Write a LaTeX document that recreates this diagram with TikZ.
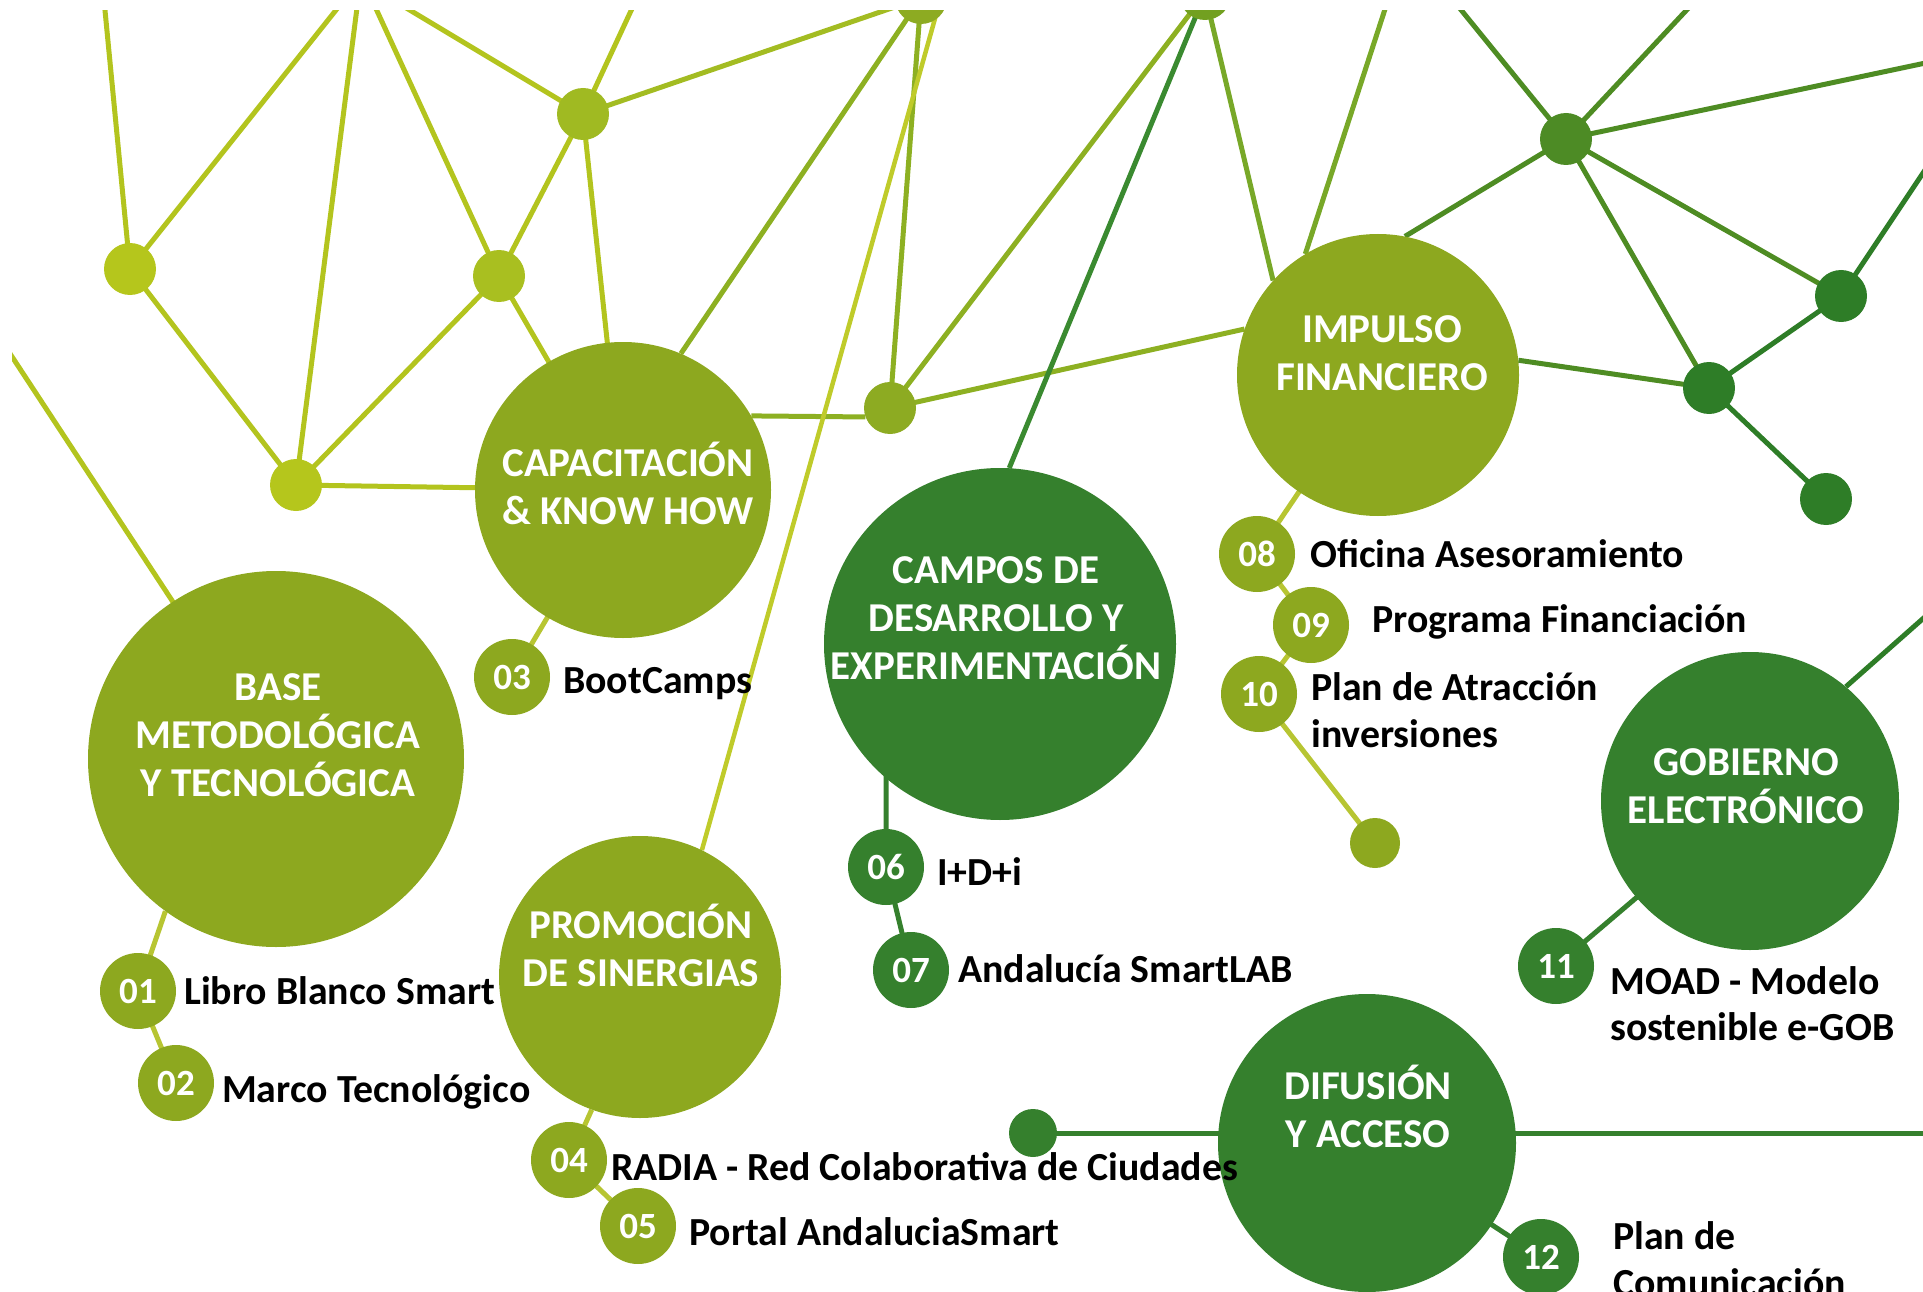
\documentclass[tikz,border=0pt]{standalone}
\usepackage{fontspec}
\setmainfont{Carlito}
\usetikzlibrary{backgrounds}
\definecolor{olive}{HTML}{8DA81F}
\definecolor{dkgreen}{HTML}{35802D}
\definecolor{cA}{HTML}{B5C61C}
\definecolor{cC}{HTML}{A9BF20}
\definecolor{cD}{HTML}{A0BA22}
\definecolor{cE}{HTML}{8DAB22}
\definecolor{cG}{HTML}{72A020}
\definecolor{cH}{HTML}{4D8B25}
\definecolor{cI}{HTML}{2E7D27}
\definecolor{lnLeft}{HTML}{B3C41E}
\definecolor{lnD}{HTML}{A3BC22}
\definecolor{lnOl}{HTML}{8DB022}
\definecolor{lnPale}{HTML}{BFCB2A}
\definecolor{lnG}{HTML}{78A828}
\definecolor{lnCamp}{HTML}{3A8A30}
\definecolor{lnH}{HTML}{4E8C23}
\definecolor{lnSub}{HTML}{B7C532}
\tikzset{
  bigc/.style={circle,inner sep=0pt,draw=none},
  num/.style={circle,inner sep=0pt,minimum size=76pt,text=white,
    font=\bfseries\fontsize{37}{37}\selectfont},
  dotn/.style={circle,inner sep=0pt,minimum size=52pt},
  wt/.style={text=white,align=center,inner sep=0pt,anchor=base,
    font=\bfseries\fontsize{41}{48}\selectfont},
  lbl/.style={anchor=base west,align=left,inner sep=0pt,
    font=\bfseries\fontsize{39.8}{47}\selectfont},
  ln/.style={line width=5pt},
}
\begin{document}
\begin{tikzpicture}[x=1pt,y=-1pt]
\useasboundingbox (0,0) rectangle (1923,1292);
\begin{scope}
\clip (12,11) rectangle (1923,1292);
% big circles
\node[bigc,fill=olive,minimum size=376pt] (base) at (276,759) {};
\node[bigc,fill=olive,minimum size=296pt] (cap) at (623,490) {};
\node[bigc,fill=olive,minimum size=282pt] (prom) at (640,977) {};
\node[bigc,fill=dkgreen,minimum size=352pt] (campos) at (1000,644) {};
\node[bigc,fill=olive,minimum size=282pt] (impulso) at (1378,375) {};
\node[bigc,fill=dkgreen,minimum size=298pt] (gob) at (1750,801) {};
\node[bigc,fill=dkgreen,minimum size=298pt] (dif) at (1367,1143) {};
% numbered circles
\node[num,fill=olive] (n01) at (138,991) {01};
\node[num,fill=olive] (n02) at (176,1083) {02};
\node[num,fill=olive] (n03) at (512,677) {03};
\node[num,fill=olive] (n04) at (569,1160) {04};
\node[num,fill=olive] (n05) at (638,1226) {05};
\node[num,fill=dkgreen] (n06) at (886,867) {06};
\node[num,fill=dkgreen] (n07) at (911,970) {07};
\node[num,fill=olive] (n08) at (1257,554) {08};
\node[num,fill=olive] (n09) at (1311,625) {09};
\node[num,fill=olive] (n10) at (1259,694) {10};
\node[num,fill=dkgreen] (n11) at (1556,966) {11};
\node[num,fill=dkgreen] (n12) at (1541,1257) {12};
% network dots
\node[dotn,fill=cA] (A) at (130,269) {};
\node[dotn,fill=cA] (B) at (296,485) {};
\node[dotn,fill=cC] (C) at (499,276) {};
\node[dotn,fill=cD] (D) at (583,114) {};
\node[dotn,fill=cE] (E) at (890,408) {};
\node[dotn,fill=cE] (F) at (921,-2) {};
\node[dotn,fill=cG] (G) at (1205,-6) {};
\node[dotn,fill=cH] (H) at (1566,139) {};
\node[dotn,fill=cI] (I) at (1841,296) {};
\node[dotn,fill=cI] (J) at (1709,388) {};
\node[dotn,fill=cI] (K) at (1826,499) {};
\node[dotn,fill=olive,minimum size=50pt] (L) at (1375,843) {};
\node[dotn,fill=dkgreen,minimum size=48pt] (M) at (1033,1133) {};
% edge coordinates
\coordinate (tA) at (104,0);
\coordinate (tA2) at (344,0);
\coordinate (tB) at (358,0);
\coordinate (tC) at (372,0);
\coordinate (tD1) at (393,0);
\coordinate (tD2) at (636,0);
\coordinate (tP) at (943,-10);
\coordinate (tImp) at (1388,0);
\coordinate (tH1) at (1453,0);
\coordinate (tH2) at (1696,0);
\coordinate (rH) at (1935,61);
\coordinate (rI) at (1935,155);
\coordinate (rGob) at (1935,608);
\coordinate (rDif) at (1935,1133);
\coordinate (lBase) at (5,346);
% white texts (anchor = baseline of the last line)
\node[wt] (tbase) at (278,796) {BASE\\METODOLÓGICA\\Y TECNOLÓGICA};
\node[wt] (tcap) at (628,524) {CAPACITACIÓN\\\& KNOW HOW};
\node[wt] (tprom) at (641,986) {PROMOCIÓN\\DE SINERGIAS};
\node[wt] (tcampos) at (996,679) {CAMPOS DE\\DESARROLLO Y\\EXPERIMENTACIÓN};
\node[wt] (timp) at (1382,390) {IMPULSO\\FINANCIERO};
\node[wt] (tgob) at (1746,823) {GOBIERNO\\ELECTRÓNICO};
\node[wt] (tdif) at (1368,1147) {DIFUSIÓN\\Y ACCESO};
% labels
\node[lbl] (l01) at (184,1004) {Libro Blanco Smart};
\node[lbl] (l02) at (222,1102) {Marco Tecnológico};
\node[lbl] (l03) at (563,693) {BootCamps};
\node[lbl] (l04) at (611,1180) {RADIA - Red Colaborativa de Ciudades};
\node[lbl] (l05) at (689,1245) {Portal AndaluciaSmart};
\node[lbl] (l06) at (937,885) {I+D+i};
\node[lbl] (l07) at (958,982) {Andalucía SmartLAB};
\node[lbl] (l08) at (1310,567) {Oficina Asesoramiento};
\node[lbl] (l09) at (1372,632) {Programa Financiación};
\node[lbl] (l10) at (1311,747) {Plan de Atracción\\inversiones};
\node[lbl,font=\bfseries\fontsize{39.8}{46}\selectfont] (l11) at (1610,1040) {MOAD - Modelo\\sostenible e-GOB};
\node[lbl] (l12) at (1613,1296) {Plan de\\Comunicación};
\end{scope}
\begin{pgfonlayer}{background}
\begin{scope}
\clip (12,11) rectangle (1923,1292);
% left cluster
\draw[ln,lnLeft] (tA) -- (A.center);
\draw[ln,lnLeft] (A.center) -- (tA2);
\draw[ln,lnLeft] (A.center) -- (B.center);
\draw[ln,lnLeft] (tB) -- (B.center);
\draw[ln,lnLeft] (B.center) -- (C.center);
\draw[ln,lnLeft] (B.center) -- (cap.center);
\draw[ln,lnLeft] (tC) -- (C.center);
\draw[ln,lnLeft] (C.center) -- (D.center);
\draw[ln,lnLeft] (C.center) -- (cap.center);
\draw[ln,lnLeft] (tD1) -- (D.center);
\draw[ln,lnLeft] (tD2) -- (D.center);
\draw[ln,lnLeft] (D.center) -- (cap.center);
\draw[ln,lnD] (D.center) -- (F.center);
\draw[ln,lnLeft] (lBase) -- (base.center);
% middle
\draw[ln,lnOl] (cap.67) -- (F.center);
\draw[ln,lnOl] (cap.30) -- (E.200);
\draw[ln,lnOl] (E.center) -- (F.center);
\draw[ln,lnOl] (E.center) -- (G.center);
\draw[ln,lnOl] (E.center) -- (impulso.161);
\draw[ln,lnPale,line width=4.5pt] (tP) -- (prom.64);
\draw[ln,lnCamp] (G.center) -- (campos.87);
\draw[ln,lnG] (G.center) -- (impulso.138);
\draw[ln,lnG] (tImp) -- (impulso.121);
% right cluster
\draw[ln,lnH] (tH1) -- (H.center);
\draw[ln,lnH] (tH2) -- (H.center);
\draw[ln,lnH] (H.center) -- (rH);
\draw[ln,lnH] (H.center) -- (impulso.79);
\draw[ln,lnH] (H.center) -- (I.center);
\draw[ln,lnH] (H.center) -- (J.center);
\draw[ln,lnH] (impulso.6) -- (J.center);
\draw[ln,cI] (J.center) -- (I.center);
\draw[ln,cI] (J.center) -- (K.center);
\draw[ln,cI] (I.center) -- (rI);
\draw[ln,cI] (gob.50) -- (rGob);
% sub items
\draw[ln,lnSub] (base.234) -- (n01.center) -- (n02.center);
\draw[ln,lnSub] (cap.center) -- (n03.center);
\draw[ln,lnSub] (prom.250) -- (n04.center) -- (n05.center);
\draw[ln,dkgreen] (n06.center |- campos.center) -- (n06.center) -- (n07.center);
\draw[ln,lnSub] (impulso.center) -- (n08.center) -- (n09.center) -- (n10.center) -- (L.center);
\draw[ln,dkgreen] (gob.center) -- (n11.center);
\draw[ln,dkgreen] (dif.center) -- (n12.center);
\draw[ln,dkgreen] (M.center) -- (rDif);
\end{scope}
\end{pgfonlayer}
\end{tikzpicture}
\end{document}
